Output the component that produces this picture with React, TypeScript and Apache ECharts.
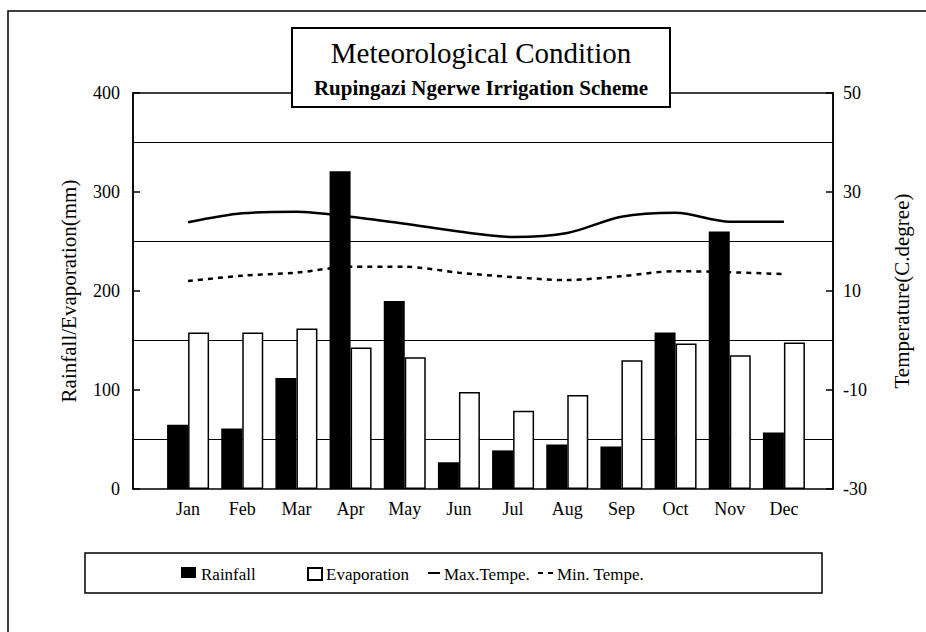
import React, { useEffect, useRef } from "react";
import * as echarts from "echarts";

const months = ["Jan", "Feb", "Mar", "Apr", "May", "Jun", "Jul", "Aug", "Sep", "Oct", "Nov", "Dec"];
const rainfall = [65, 61, 112, 321, 190, 27, 39, 45, 43, 158, 260, 57];
const evaporation = [158, 158, 162, 143, 133, 98, 79, 95, 130, 147, 135, 148];
const maxTemp = [23.9, 25.7, 26.0, 25.0, 23.6, 22.0, 20.9, 21.7, 25.0, 25.8, 24.0, 24.0];
const minTemp = [12.0, 13.1, 13.7, 14.9, 14.9, 13.7, 12.8, 12.2, 13.0, 14.0, 13.8, 13.4];
const seriesNames = ["Rainfall", "Evaporation", "Max.Tempe.", "Min. Tempe."];

const titleText = "Meteorological Condition";
const subtitleText = "Rupingazi Ngerwe Irrigation Scheme";
const leftAxisName = "Rainfall/Evaporation(mm)";
const rightAxisName = "Temperature(C.degree)";

const FONT = "Liberation Serif";

export default function App() {
  const ref = useRef<HTMLDivElement>(null);
  useEffect(() => {
    if (!ref.current) return;
    const chart = echarts.init(ref.current, null, { renderer: "svg" });
    const iconLeft = [181, 307, 427, 537];
    const iconW = [15, 14, 12, 15];
    const legends = seriesNames.map((n, i) => ({
      data: [n],
      formatter: () => "",
      left: iconLeft[i],
      top: 567,
      itemWidth: iconW[i],
      itemHeight: i === 0 ? 11 : 12,
      itemGap: 0,
      selectedMode: false,
      padding: 0,
      ...(i < 2 ? { icon: "rect" } : { itemStyle: { opacity: 0 } }),
    }));
    const legendTexts = seriesNames.map((n, i) => ({
      type: "text",
      z: 10,
      silent: true,
      x: iconLeft[i] + iconW[i] + 5,
      y: 574,
      style: { text: n, font: `17px '${FONT}'`, fill: "#000", align: "left", verticalAlign: "middle" },
    }));
    const option: any = {
      animation: false,
      backgroundColor: "#fff",
      textStyle: { fontFamily: FONT, color: "#000" },
      grid: [
        { left: 133, right: 93, top: 93, bottom: 143, show: true, borderColor: "#000", borderWidth: 1.5, backgroundColor: "transparent" },
        { left: 161, right: 115, top: 93, bottom: 143 },
      ],
      xAxis: [
        { gridIndex: 0, type: "category", data: months, show: false },
        {
          gridIndex: 1,
          type: "category",
          data: months,
          axisLine: { show: false },
          axisTick: { show: false },
          axisLabel: { fontFamily: FONT, fontSize: 18, color: "#000", margin: 11 },
        },
      ],
      yAxis: [
        {
          gridIndex: 0,
          type: "value",
          position: "left",
          min: 0,
          max: 400,
          interval: 100,
          axisLine: { show: true, lineStyle: { color: "#000", width: 1.5 } },
          axisTick: { show: true, inside: true, length: 7, lineStyle: { color: "#000", width: 1.5 } },
          axisLabel: { fontFamily: FONT, fontSize: 18, color: "#000", margin: 13 },
          splitLine: { show: false },
          name: leftAxisName,
          nameLocation: "middle",
          nameRotate: 90,
          nameGap: 54,
          nameTextStyle: { fontFamily: FONT, fontSize: 21, color: "#000" },
        },
        {
          gridIndex: 0,
          type: "value",
          position: "right",
          min: -30,
          max: 50,
          interval: 20,
          axisLine: { show: true, lineStyle: { color: "#000", width: 1.5 } },
          axisTick: { show: true, inside: true, length: 7, lineStyle: { color: "#000", width: 1.5 } },
          axisLabel: { fontFamily: FONT, fontSize: 18, color: "#000", margin: 10 },
          splitLine: { show: false },
          minorTick: { show: false, splitNumber: 2 },
          minorSplitLine: { show: true, lineStyle: { color: "#000", width: 1 } },
          name: rightAxisName,
          nameLocation: "middle",
          nameRotate: 90,
          nameGap: 58,
          nameTextStyle: { fontFamily: FONT, fontSize: 21, color: "#000" },
        },
        { gridIndex: 1, type: "value", min: 0, max: 400, show: false },
        { gridIndex: 1, type: "value", min: -30, max: 50, show: false },
      ],
      legend: legends,
      graphic: [
        { type: "rect", z: 0, silent: true, shape: { x: 8, y: 11, width: 1000, height: 800 }, style: { fill: "none", stroke: "#000", lineWidth: 1.5 } },
        { type: "rect", z: 0, silent: true, shape: { x: 85, y: 553, width: 737, height: 40 }, style: { fill: "none", stroke: "#000", lineWidth: 1.5 } },
        ...legendTexts,
        { type: "rect", z: 100, silent: true, shape: { x: 292, y: 28, width: 378, height: 79 }, style: { fill: "#fff", stroke: "#000", lineWidth: 2 } },
        { type: "text", z: 101, silent: true, x: 481, y: 53, style: { text: titleText, font: `29px '${FONT}'`, fill: "#000", align: "center", verticalAlign: "middle" } },
        { type: "text", z: 101, silent: true, x: 481, y: 88, style: { text: subtitleText, font: `bold 21px '${FONT}'`, fill: "#000", align: "center", verticalAlign: "middle" } },
      ],
      series: [
        {
          name: seriesNames[0],
          type: "bar",
          xAxisIndex: 1,
          yAxisIndex: 2,
          data: rainfall,
          barWidth: 21,
          barGap: "0%",
          itemStyle: { color: "#000" },
        },
        {
          name: seriesNames[1],
          type: "bar",
          xAxisIndex: 1,
          yAxisIndex: 2,
          data: evaporation,
          barWidth: 21,
          barGap: "0%",
          itemStyle: { color: "#fff", borderColor: "#000", borderWidth: 1.5 },
        },
        {
          name: seriesNames[2],
          type: "line",
          xAxisIndex: 1,
          yAxisIndex: 3,
          data: maxTemp,
          smooth: 0.3,
          symbol: "none",
          itemStyle: { color: "#000" },
          lineStyle: { color: "#000", width: 2.5 },
        },
        {
          name: seriesNames[3],
          type: "line",
          xAxisIndex: 1,
          yAxisIndex: 3,
          data: minTemp,
          smooth: 0.3,
          symbol: "none",
          itemStyle: { color: "#000" },
          lineStyle: { color: "#000", width: 2.5, type: [5, 5] },
        },
      ],
    };
    chart.setOption(option);
    return () => chart.dispose();
  }, []);
  return <div ref={ref} style={{ position: "fixed", left: 0, top: 0, width: 926, height: 632 }} />;
}
